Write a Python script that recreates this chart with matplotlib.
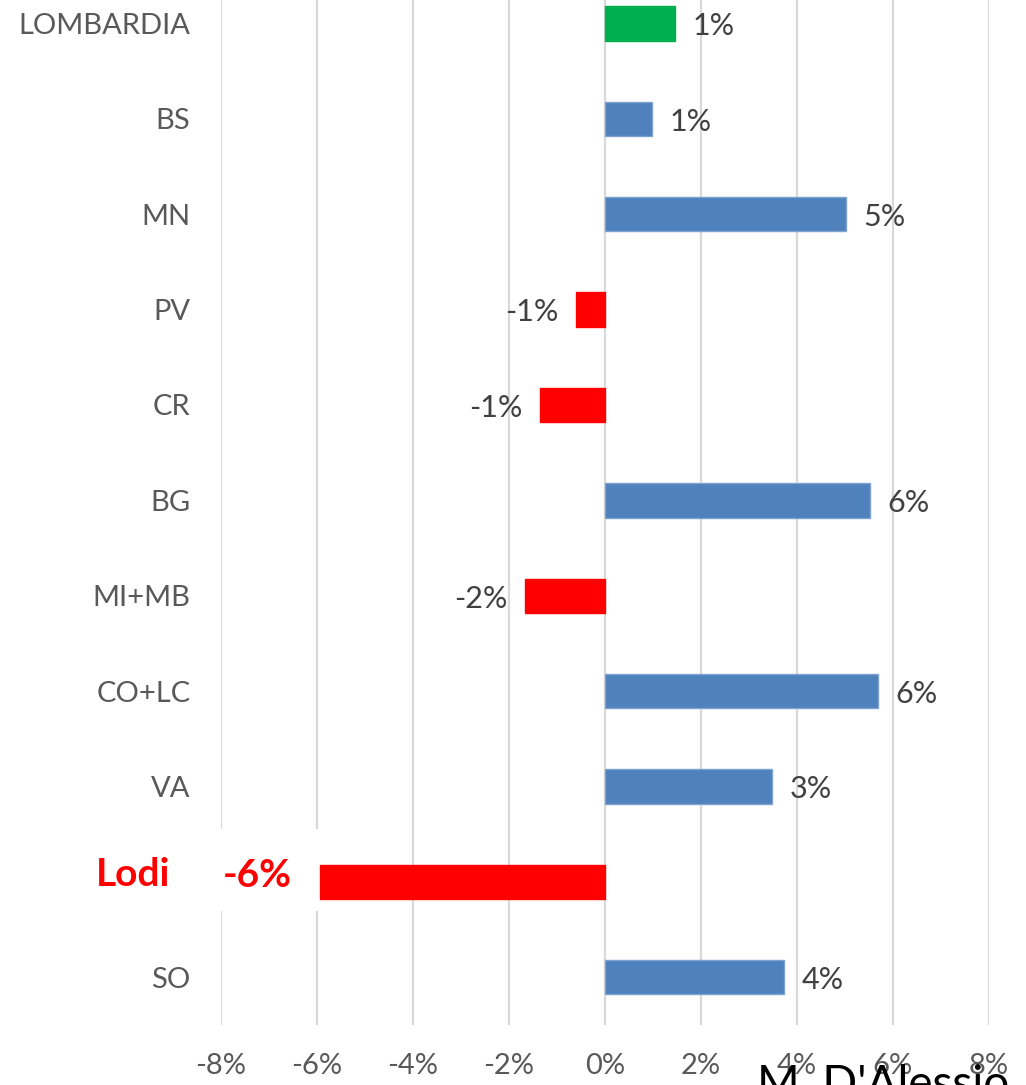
import matplotlib
matplotlib.use("Agg")
import matplotlib.pyplot as plt
from matplotlib.patches import Rectangle

plt.rcParams["font.family"] = ["Lato", "DejaVu Sans"]

# Province data, top to bottom
provinces = ["LOMBARDIA", "BS", "MN", "PV", "CR", "BG", "MI+MB", "CO+LC", "VA", "Lodi", "SO"]
changes = [1.46, 0.98, 5.02, -0.60, -1.35, 5.52, -1.67, 5.69, 3.48, -5.94, 3.73]
xticks = [-8, -6, -4, -2, 0, 2, 4, 6, 8]

highlight = "Lodi"
total_row = "LOMBARDIA"

blue = "#4F81BD"
red = "#FF0000"
green = "#00B050"
label_grey = "#595959"
value_grey = "#404040"
grid_grey = "#D9D9D9"

W, H = 1026, 1085
fig = plt.figure(figsize=(W / 100, H / 100), dpi=100)
ax = fig.add_axes([221 / W, 1 - 1025 / H, (989 - 221) / W, 1025 / H])

ypos = list(range(len(provinces)))
colors = []
for name, v in zip(provinces, changes):
    if name == total_row:
        colors.append(green)
    elif v < 0:
        colors.append(red)
    else:
        colors.append(blue)

ax.barh(ypos, changes, height=0.36, color=colors, zorder=3,
        edgecolor=["#7FA3D1" if c == blue else c for c in colors], linewidth=1)

ax.set_xlim(-8, 8)
ax.set_ylim(10.5, -0.245)
ax.set_xticks(xticks)
ax.set_xticklabels([f"{t}%" for t in xticks], fontsize=21, color=label_grey)
ax.set_yticks(ypos)
ax.set_yticklabels([("" if p == highlight else p) for p in provinces],
                   fontsize=21, color=label_grey)
ax.tick_params(axis="x", length=0, pad=20)
ax.tick_params(axis="y", length=0, pad=22)
for s in ax.spines.values():
    s.set_visible(False)
ax.xaxis.grid(True, color=grid_grey, linewidth=1.6, zorder=0)
ax.set_axisbelow(True)

# Value labels next to each bar
for y, (name, v) in enumerate(zip(provinces, changes)):
    if name == highlight:
        continue
    off = 0.36 if v >= 0 else -0.36
    ax.text(v + off, y + 0.03, f"{round(v):.0f}%", ha="left" if v >= 0 else "right",
            va="center", fontsize=22, color=value_grey, zorder=4)

# Highlighted province: white box over the grid with bold red labels
hy = provinces.index(highlight)
ax.add_patch(Rectangle((-8.9, hy - 0.55), 2.95, 0.86, facecolor="white",
                       edgecolor="none", zorder=2, clip_on=False))
ax.text(-7.96, hy - 0.07, f"{round(changes[hy]):.0f}%", ha="left", va="center",
        fontsize=28, fontweight="bold", color=red, zorder=4)
fig.text(133 / W, 1 - 875 / H, highlight, ha="center", va="center",
         fontsize=28, fontweight="bold", color=red)

# Author signature along the bottom edge
fig.text(757 / W, 1 - 1064 / H, "M. D'Alessio", ha="left", va="top",
         fontsize=33, color="black")

fig.savefig("out.png", dpi=100)
